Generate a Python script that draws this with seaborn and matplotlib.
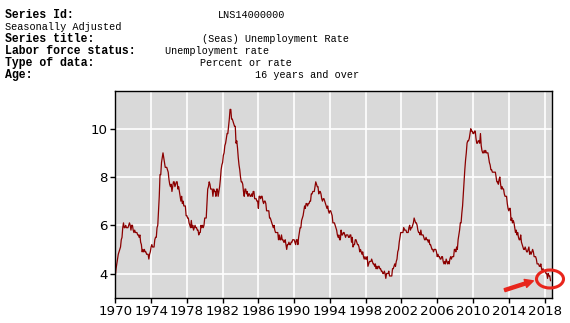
import matplotlib
matplotlib.use("Agg")
import matplotlib.pyplot as plt
from matplotlib.patches import Ellipse, FancyArrowPatch
import seaborn as sns
import numpy as np
import pandas as pd

# Monthly unemployment rate (seasonally adjusted), Jan 1970 - Sep 2018
rate_1970s = [
    3.9, 4.2, 4.4, 4.6, 4.8, 4.9, 5.0, 5.1, 5.4, 5.5, 5.9, 6.1,   # 1970
    5.9, 5.9, 6.0, 5.9, 5.9, 5.9, 6.0, 6.1, 6.0, 5.8, 6.0, 6.0,   # 1971
    5.8, 5.7, 5.8, 5.7, 5.7, 5.7, 5.6, 5.6, 5.5, 5.6, 5.3, 5.2,   # 1972
    4.9, 5.0, 4.9, 5.0, 4.9, 4.9, 4.8, 4.8, 4.8, 4.6, 4.8, 4.9,   # 1973
    5.1, 5.2, 5.1, 5.1, 5.1, 5.4, 5.5, 5.5, 5.9, 6.0, 6.6, 7.2,   # 1974
    8.1, 8.1, 8.6, 8.8, 9.0, 8.8, 8.6, 8.4, 8.4, 8.4, 8.3, 8.2,   # 1975
    7.9, 7.7, 7.6, 7.7, 7.4, 7.6, 7.8, 7.8, 7.6, 7.7, 7.8, 7.8,   # 1976
    7.5, 7.6, 7.4, 7.2, 7.0, 7.2, 6.9, 7.0, 6.8, 6.8, 6.8, 6.4,   # 1977
    6.4, 6.3, 6.3, 6.1, 6.0, 5.9, 6.2, 5.9, 6.0, 5.8, 5.9, 6.0,   # 1978
    5.9, 5.9, 5.8, 5.8, 5.6, 5.7, 5.7, 6.0, 5.9, 6.0, 5.9, 6.0,   # 1979
]
rate_1980s = [
    6.3, 6.3, 6.3, 6.9, 7.5, 7.6, 7.8, 7.7, 7.5, 7.5, 7.5, 7.2,   # 1980
    7.5, 7.4, 7.4, 7.2, 7.5, 7.5, 7.2, 7.4, 7.6, 7.9, 8.3, 8.5,   # 1981
    8.6, 8.9, 9.0, 9.3, 9.4, 9.6, 9.8, 9.8, 10.1, 10.4, 10.8, 10.8,  # 1982
    10.4, 10.4, 10.3, 10.2, 10.1, 10.1, 9.4, 9.5, 9.2, 8.8, 8.5, 8.3,  # 1983
    8.0, 7.8, 7.8, 7.7, 7.4, 7.2, 7.5, 7.5, 7.3, 7.4, 7.2, 7.3,   # 1984
    7.3, 7.2, 7.2, 7.3, 7.2, 7.4, 7.4, 7.1, 7.1, 7.1, 7.0, 7.0,   # 1985
    6.7, 7.2, 7.2, 7.1, 7.2, 7.2, 7.0, 6.9, 7.0, 7.0, 6.9, 6.6,   # 1986
    6.6, 6.6, 6.6, 6.3, 6.3, 6.2, 6.1, 6.0, 5.9, 6.0, 5.8, 5.7,   # 1987
    5.7, 5.7, 5.7, 5.4, 5.6, 5.4, 5.4, 5.6, 5.4, 5.4, 5.3, 5.3,   # 1988
    5.4, 5.2, 5.0, 5.2, 5.2, 5.3, 5.2, 5.2, 5.3, 5.3, 5.4, 5.4,   # 1989
]
rate_1990s = [
    5.4, 5.3, 5.2, 5.4, 5.4, 5.2, 5.5, 5.7, 5.9, 5.9, 6.2, 6.3,   # 1990
    6.4, 6.6, 6.8, 6.7, 6.9, 6.9, 6.8, 6.9, 6.9, 7.0, 7.0, 7.3,   # 1991
    7.3, 7.4, 7.4, 7.4, 7.6, 7.8, 7.7, 7.6, 7.6, 7.3, 7.4, 7.4,   # 1992
    7.3, 7.1, 7.0, 7.1, 7.1, 7.0, 6.9, 6.8, 6.7, 6.8, 6.6, 6.5,   # 1993
    6.6, 6.6, 6.5, 6.4, 6.1, 6.1, 6.1, 6.0, 5.9, 5.8, 5.6, 5.5,   # 1994
    5.6, 5.4, 5.4, 5.8, 5.6, 5.6, 5.7, 5.7, 5.6, 5.5, 5.6, 5.6,   # 1995
    5.6, 5.5, 5.5, 5.6, 5.6, 5.3, 5.5, 5.1, 5.2, 5.2, 5.4, 5.4,   # 1996
    5.3, 5.2, 5.2, 5.1, 4.9, 5.0, 4.9, 4.8, 4.9, 4.7, 4.6, 4.7,   # 1997
    4.6, 4.6, 4.7, 4.3, 4.4, 4.5, 4.5, 4.5, 4.6, 4.5, 4.4, 4.4,   # 1998
    4.3, 4.4, 4.2, 4.3, 4.2, 4.3, 4.3, 4.2, 4.2, 4.1, 4.1, 4.0,   # 1999
]
rate_2000s = [
    4.0, 4.1, 4.0, 3.8, 4.0, 4.0, 4.0, 4.1, 3.9, 3.9, 3.9, 3.9,   # 2000
    4.2, 4.2, 4.3, 4.4, 4.3, 4.5, 4.6, 4.9, 5.0, 5.3, 5.5, 5.7,   # 2001
    5.7, 5.7, 5.7, 5.9, 5.8, 5.8, 5.8, 5.7, 5.7, 5.7, 5.9, 6.0,   # 2002
    5.8, 5.9, 5.9, 6.0, 6.1, 6.3, 6.2, 6.1, 6.1, 6.0, 5.8, 5.7,   # 2003
    5.7, 5.6, 5.8, 5.6, 5.6, 5.6, 5.5, 5.4, 5.4, 5.5, 5.4, 5.4,   # 2004
    5.3, 5.4, 5.2, 5.2, 5.1, 5.0, 5.0, 4.9, 5.0, 5.0, 5.0, 4.9,   # 2005
    4.7, 4.8, 4.7, 4.7, 4.6, 4.6, 4.7, 4.7, 4.5, 4.4, 4.5, 4.4,   # 2006
    4.6, 4.5, 4.4, 4.5, 4.4, 4.6, 4.7, 4.6, 4.7, 4.7, 4.7, 5.0,   # 2007
    5.0, 4.9, 5.1, 5.0, 5.4, 5.6, 5.8, 6.1, 6.1, 6.5, 6.8, 7.3,   # 2008
    7.8, 8.3, 8.7, 9.0, 9.4, 9.5, 9.5, 9.6, 9.8, 10.0, 9.9, 9.9,  # 2009
]
rate_2010s = [
    9.8, 9.8, 9.9, 9.9, 9.6, 9.4, 9.4, 9.5, 9.5, 9.4, 9.8, 9.3,   # 2010
    9.1, 9.0, 9.0, 9.1, 9.0, 9.1, 9.0, 9.0, 9.0, 8.8, 8.6, 8.5,   # 2011
    8.3, 8.3, 8.2, 8.2, 8.2, 8.2, 8.2, 8.0, 7.8, 7.8, 7.7, 7.9,   # 2012
    8.0, 7.7, 7.5, 7.6, 7.5, 7.5, 7.3, 7.2, 7.2, 7.2, 6.9, 6.7,   # 2013
    6.6, 6.7, 6.7, 6.2, 6.3, 6.1, 6.2, 6.1, 5.9, 5.7, 5.8, 5.6,   # 2014
    5.7, 5.5, 5.4, 5.4, 5.6, 5.3, 5.2, 5.1, 5.0, 5.0, 5.1, 5.0,   # 2015
    4.9, 4.9, 5.0, 5.1, 4.8, 4.9, 4.8, 4.9, 5.0, 4.9, 4.7, 4.7,   # 2016
    4.7, 4.6, 4.4, 4.4, 4.4, 4.3, 4.3, 4.4, 4.2, 4.1, 4.2, 4.1,   # 2017
    4.1, 4.1, 4.0, 4.0, 3.8, 4.0, 3.9, 3.9, 3.7,                  # 2018
]
start_year = 1970
x_ticks = list(range(1970, 2019, 4))
y_ticks = [4, 6, 8, 10]

header_labels = ["Series Id:", "Seasonally Adjusted", "Series title:",
                 "Labor force status:", "Type of data:", "Age:"]
header_values = ["LNS14000000", "", "(Seas) Unemployment Rate",
                 "Unemployment rate", "Percent or rate", "16 years and over"]

rates = rate_1970s + rate_1980s + rate_1990s + rate_2000s + rate_2010s
df = pd.DataFrame({
    "t": start_year + np.arange(len(rates)) / 12.0,
    "rate": rates,
})

sns.set_theme(style="darkgrid", rc={
    "axes.facecolor": "#D9D9D9",
    "grid.color": "white",
    "grid.linewidth": 1.2,
    "axes.edgecolor": "black",
    "axes.linewidth": 1.0,
})
plt.rcParams["font.family"] = ["DejaVu Sans"]

W, H = 570, 323
fig = plt.figure(figsize=(W / 100, H / 100), dpi=100)
ax = fig.add_axes([115.3 / W, 1 - 297.7 / H, (551.7 - 115.3) / W, (297.7 - 91.3) / H])

sns.lineplot(data=df, x="t", y="rate", ax=ax, color="#8B0000", linewidth=0.9)

ax.set_xlim(1970, 2018.8)
ax.set_ylim(3.0, 11.55)
ax.set_xticks(x_ticks)
ax.set_xticklabels([str(v) for v in x_ticks])
ax.set_yticks(y_ticks)
ax.set_xlabel("")
ax.set_ylabel("")
ax.tick_params(axis="both", which="major", length=3.5, width=1, color="black",
               labelsize=9.6, labelcolor="black", pad=2, direction="out",
               bottom=True, left=True)
for s in ax.spines.values():
    s.set_visible(True)
    s.set_color("black")
    s.set_linewidth(1.0)

# Header text block
mono = ["Liberation Mono", "DejaVu Sans Mono"]
line_y = [15, 27, 39.5, 51.5, 63, 75]
value_x = [218, None, 202, 165, 200, 255]
for i, (lab, val) in enumerate(zip(header_labels, header_values)):
    bold = i != 1
    fig.text(5 / W, 1 - line_y[i] / H, lab, ha="left", va="center",
             family=mono, fontsize=8.3 if bold else 7.4,
             fontweight="bold" if bold else "normal", color="black")
    if val:
        fig.text(value_x[i] / W, 1 - line_y[i] / H, val, ha="left", va="center",
                 family=mono, fontsize=7.3, color="black")

# Red highlight annotation
ell = Ellipse((550 / W, 1 - 279 / H), 27 / W, 18 / H, transform=fig.transFigure,
              fill=False, edgecolor="#E8251C", linewidth=2.2, clip_on=False)
fig.add_artist(ell)
arr = FancyArrowPatch((502 / W, 1 - 291 / H), (536 / W, 1 - 280 / H),
                      transform=fig.transFigure, arrowstyle="simple,head_length=6,head_width=6,tail_width=2.2",
                      color="#E8251C", clip_on=False)
fig.add_artist(arr)

fig.savefig("out.png", dpi=100)
